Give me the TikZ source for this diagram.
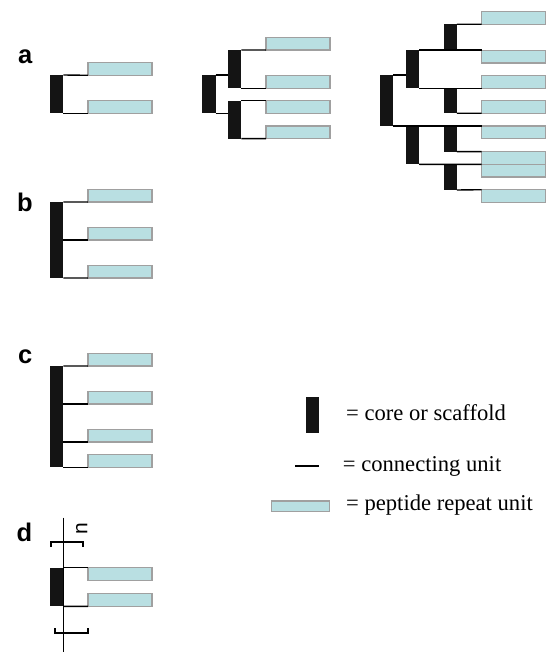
\documentclass[tikz,border=0pt]{standalone}
\usepackage{fontspec}
\setmainfont{Liberation Serif}
\newfontfamily\legfont{Liberation Serif}
\newfontfamily\labfont{Liberation Sans}
\definecolor{pepfill}{HTML}{B9DFE2}
\definecolor{pepline}{HTML}{A0A0A0}
\definecolor{corecol}{HTML}{141414}
\tikzset{
  core/.style={fill=corecol, draw=none, inner sep=0pt, outer sep=0pt, minimum width=13.3pt, anchor=north west},
  pep/.style={fill=pepfill, draw=pepline, line width=1.2pt, inner sep=0pt, outer sep=0pt, minimum width=64pt, minimum height=12.7pt, anchor=north west},
  conn/.style={line width=1.4pt, black},
  brk/.style={line width=1.8pt, black},
  panlab/.style={font=\labfont\bfseries\fontsize{25.5}{28}\selectfont, inner sep=0pt, anchor=base},
  legtext/.style={font=\legfont\fontsize{22.6}{26}\selectfont, inner sep=0pt, anchor=base west}
}
\newcommand\corebar[4]{\node[core, minimum height={(#4-#3)*1pt}] (#1) at (#2,#3) {};}
\newcommand\pepbox[3]{\node[pep] (#1) at (#2,#3) {};}
\begin{document}
\begin{tikzpicture}[x=1pt,y=-1pt]
\useasboundingbox (0,0) rectangle (546,652);

% ---------- panel labels
\node[panlab] (la) at (25.3,63.3) {a};
\node[panlab] (lb) at (24.8,211.7) {b};
\node[panlab] (lc) at (25.3,363.3) {c};
\node[panlab] (ld) at (24.5,541) {d};

% ---------- a1
\corebar{a1r}{50}{75}{113.3}
\pepbox{a1p1}{88}{62.6}
\pepbox{a1p2}{88}{100.6}
\draw[conn] (a1r.north east) -- (a1p1.south west);
\draw[conn] (a1r.south east) -- (a1p2.south west);

% ---------- a2
\corebar{a2r}{202.3}{75}{113.3}
\corebar{a2s1}{228}{50}{88.3}
\corebar{a2s2}{228}{100.7}{138.7}
\pepbox{a2p1}{266}{37.3}
\pepbox{a2p2}{266}{75.6}
\pepbox{a2p3}{266}{100.7}
\pepbox{a2p4}{266}{126}
\draw[conn] (a2r.north east) -- (a2r.north east -| a2s1.west);
\draw[conn] (a2r.south east) -- (a2r.south east -| a2s2.west);
\draw[conn] (a2s1.north east) -- (a2p1.south west);
\draw[conn] (a2s1.south east) -- (a2p2.south west);
\draw[conn] (a2s2.north east) -- (a2p3.north west);
\draw[conn] (a2s2.south east) -- (a2p4.south west);

% ---------- a3
\corebar{a3r}{380}{75}{126}
\corebar{a3t}{405.7}{50}{88.3}
\corebar{a3b}{405.7}{126}{164.3}
\corebar{a3A}{443.6}{24.3}{50}
\corebar{a3B}{443.6}{88.3}{113.3}
\corebar{a3C}{443.6}{126}{151.7}
\corebar{a3D}{443.6}{164.3}{190}
\pepbox{a3p1}{481.7}{11.6}
\pepbox{a3p2}{481.7}{50.4}
\pepbox{a3p3}{481.7}{75.6}
\pepbox{a3p4}{481.7}{100.6}
\pepbox{a3p5}{481.7}{126}
\pepbox{a3p6}{481.7}{151.7}
\pepbox{a3p7}{481.7}{164.4}
\pepbox{a3p8}{481.7}{189.7}
\draw[conn] (a3r.north east) -- (a3r.north east -| a3t.west);
\draw[conn] (a3r.south east) -- (a3p5.north west);
\draw[conn] (a3t.north east) -- (a3t.north east -| a3p2.west);
\draw[conn] (a3A.north east) -- (a3p1.south west);
\draw[conn] (a3t.south east) -- (a3p3.south west);
\draw[conn] (a3B.south east) -- (a3p4.south west);
\draw[conn] (a3C.south east) -- (a3p6.north west);
\draw[conn] (a3b.south east) -- (a3p7.north west);
\draw[conn] (a3D.south east) -- (a3p8.north west);

% ---------- b
\corebar{br}{50}{202}{278}
\pepbox{bp1}{88}{189.3}
\pepbox{bp2}{88}{227.3}
\pepbox{bp3}{88}{265.3}
\draw[conn] (br.north east) -- (bp1.south west);
\draw[conn] (br.east |- bp2.south) -- (bp2.south west);
\draw[conn] (br.south east) -- (bp3.south west);

% ---------- c
\corebar{cr}{50}{366}{467.3}
\pepbox{cp1}{88}{353.3}
\pepbox{cp2}{88}{391.3}
\pepbox{cp3}{88}{429.3}
\pepbox{cp4}{88}{454.6}
\draw[conn] (cr.north east) -- (cp1.south west);
\draw[conn] (cr.east |- cp2.south) -- (cp2.south west);
\draw[conn] (cr.east |- cp3.south) -- (cp3.south west);
\draw[conn] (cr.south east) -- (cp4.south west);

% ---------- d
\corebar{dr}{50}{567.7}{606.3}
\pepbox{dp1}{88}{567.7}
\pepbox{dp2}{88}{593.6}
\coordinate (dtop) at (63.3,517.7);
\coordinate (dbot) at (63.3,652);
\draw[conn] (dtop) -- (dbot);
\draw[conn] (dr.north east) -- (dp1.north west);
\draw[conn] (dr.south east) -- (dp2.south west);
\coordinate (bu1) at (50.7,547);
\coordinate (bu2) at (83.3,547);
\coordinate (bl1) at (55,628);
\coordinate (bl2) at (88.3,628);
\draw[brk] (bu1) -- ++(0,-5.3) -| (bu2);
\draw[brk] (bl1) -- ++(0,5.3) -| (bl2);
\node[font=\labfont\fontsize{21}{24}\selectfont, inner sep=0pt, rotate=90] (nlab) at (81.7,529) {n};

% ---------- legend
\corebar{lcore}{305.7}{397.3}{432.7}
\coordinate (lc1) at (295,466);
\coordinate (lc2) at (319.3,466);
\draw[conn] (lc1) -- (lc2);
\node[pep, minimum width=57.6pt, minimum height=10.7pt] (lpep) at (271.7,501) {};
\node[legtext] (t1) at (346,420) {= core or scaffold};
\node[legtext] (t2) at (342.7,471.5) {= connecting unit};
\node[legtext] (t3) at (346,510) {= peptide repeat unit};
\end{tikzpicture}
\end{document}
